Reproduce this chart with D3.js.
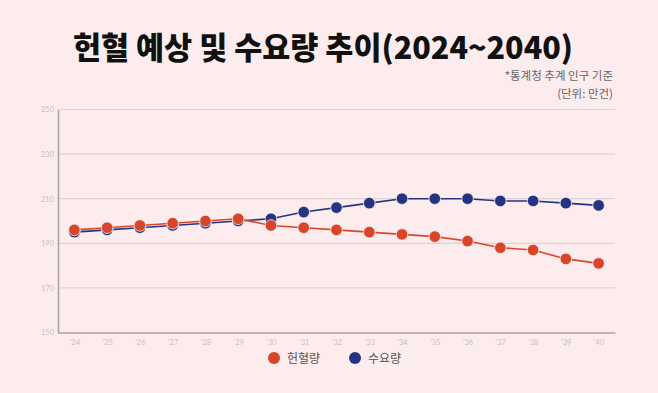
<!DOCTYPE html>
<html>
<head>
<meta charset="utf-8">
<script src="https://cdn.jsdelivr.net/npm/d3@7"></script>
<style>
  html, body { margin: 0; padding: 0; background: #fdeced; }
  svg { display: block; font-family: "Noto Sans CJK KR", "Noto Sans", sans-serif; }
</style>
</head>
<body>
<svg id="chart" width="658" height="393"></svg>
<script>
// data (unit: 만건)
var years = ["'24","'25","'26","'27","'28","'29","'30","'31","'32","'33","'34","'35","'36","'37","'38","'39","'40"];
var donation = [196, 197, 198, 199, 200, 201, 198, 197, 196, 195, 194, 193, 191, 188, 187, 183, 181];
var demand   = [195, 196, 197, 198, 199, 200, 201, 204, 206, 208, 210, 210, 210, 209, 209, 208, 207];
var yTicks = [150, 170, 190, 210, 230, 250];

var seriesNames = ["헌혈량", "수요량"];
var seriesColors = ["#d8462a", "#233581"];

var svg = d3.select("#chart");

svg.append("rect")
  .attr("width", 658).attr("height", 393)
  .style("fill", "#fdeced");

var plotLeft = 58, plotRight = 615, plotTop = 109.5, plotBottom = 332.5;

var x = d3.scalePoint().domain(years).range([plotLeft, plotRight]).padding(0.5);
var y = d3.scaleLinear().domain([150, 250]).range([plotBottom, plotTop]);

// title
svg.append("text")
  .attr("x", 323).attr("y", 59)
  .attr("text-anchor", "middle")
  .attr("font-size", "30.5px")
  .attr("font-weight", "900")
  .style("fill", "#111")
  .text("헌혈 예상 및 수요량 추이(2024~2040)");

svg.append("text")
  .attr("x", 613).attr("y", 80)
  .attr("text-anchor", "end")
  .attr("font-size", "11.5px")
  .style("fill", "#666")
  .text("*통계청 추계 인구 기준");

svg.append("text")
  .attr("x", 613).attr("y", 98)
  .attr("text-anchor", "end")
  .attr("font-size", "11.5px")
  .style("fill", "#666")
  .text("(단위: 만건)");

// grid
svg.append("g")
  .selectAll("line")
  .data(yTicks.slice(1))
  .enter().append("line")
    .attr("x1", plotLeft).attr("x2", plotRight)
    .attr("y1", function(d){ return y(d); })
    .attr("y2", function(d){ return y(d); })
    .style("stroke", "#ddd3d4")
    .style("stroke-width", 1.2);

// y axis
var yAxis = svg.append("g")
  .attr("transform", "translate(" + plotLeft + ",0)")
  .call(d3.axisLeft(y).tickValues(yTicks).tickSize(0).tickPadding(4));
yAxis.select(".domain").style("stroke", "#a9a2a3").style("stroke-width", 1.5);
yAxis.selectAll("text")
  .attr("font-size", "7.5px")
  .attr("font-family", "Lato, sans-serif")
  .style("fill", "#c9c0c1");

// x axis
var xAxis = svg.append("g")
  .attr("transform", "translate(0," + plotBottom + ")")
  .call(d3.axisBottom(x).tickSize(0).tickPadding(7));
xAxis.select(".domain").style("stroke", "#a9a2a3").style("stroke-width", 1.5);
xAxis.selectAll("text")
  .attr("font-size", "7.5px")
  .attr("font-family", "Lato, sans-serif")
  .style("fill", "#c9c0c1");

var line = d3.line()
  .x(function(d, i){ return x(years[i]); })
  .y(function(d){ return y(d); });

function drawSeries(values, color) {
  var g = svg.append("g");
  g.append("path")
    .datum(values)
    .attr("d", line)
    .style("fill", "none")
    .style("stroke", color)
    .style("stroke-width", 1.6);
  g.selectAll("circle")
    .data(values)
    .enter().append("circle")
      .attr("cx", function(d, i){ return x(years[i]); })
      .attr("cy", function(d){ return y(d); })
      .attr("r", 5.8)
      .style("fill", color)
      .style("stroke", "#fdeced")
      .style("stroke-width", 0.8);
}

drawSeries(demand, seriesColors[1]);
drawSeries(donation, seriesColors[0]);

// legend
var legendX = [274, 355];
var legend = svg.append("g").selectAll("g")
  .data(seriesNames)
  .enter().append("g")
    .attr("transform", function(d, i){ return "translate(" + legendX[i] + ",358)"; });
legend.append("circle")
  .attr("r", 6)
  .style("fill", function(d, i){ return seriesColors[i]; });
legend.append("text")
  .attr("x", 13).attr("y", 4.5)
  .attr("font-size", "12px")
  .style("fill", "#555")
  .text(function(d){ return d; });
</script>
</body>
</html>
